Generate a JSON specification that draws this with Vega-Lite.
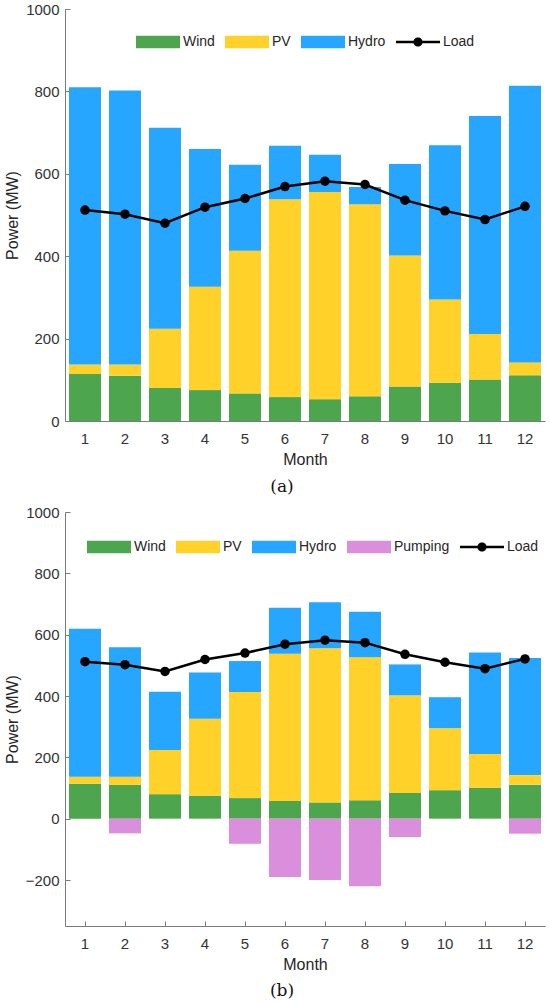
{
  "$schema": "https://vega.github.io/schema/vega-lite/v6.json",
  "padding": {"left": 4, "top": 2, "right": 5, "bottom": 5},
  "background": "white",
  "bounds": "flush",
  "spacing": 91,
  "config": {
    "view": {"stroke": null},
    "font": "Liberation Sans",
    "axis": {
      "labelFont": "Liberation Sans", "labelFontSize": 15, "labelColor": "#333333",
      "titleFont": "Liberation Sans", "titleFontSize": 16, "titleFontWeight": "normal", "titleColor": "#262626",
      "domainColor": "#7a7a7a", "tickColor": "#7a7a7a", "domainWidth": 1, "tickWidth": 1,
      "tickSize": -5, "grid": false
    }
  },
  "resolve": {"scale": {"color": "independent", "x": "independent", "y": "independent"}},
  "datasets": {
    "barsA": [
      {"month": 1, "series": "Wind", "value": 114}, {"month": 1, "series": "PV", "value": 23}, {"month": 1, "series": "Hydro", "value": 673},
      {"month": 2, "series": "Wind", "value": 110}, {"month": 2, "series": "PV", "value": 27}, {"month": 2, "series": "Hydro", "value": 665},
      {"month": 3, "series": "Wind", "value": 80}, {"month": 3, "series": "PV", "value": 144}, {"month": 3, "series": "Hydro", "value": 488},
      {"month": 4, "series": "Wind", "value": 75}, {"month": 4, "series": "PV", "value": 251}, {"month": 4, "series": "Hydro", "value": 334},
      {"month": 5, "series": "Wind", "value": 67}, {"month": 5, "series": "PV", "value": 346}, {"month": 5, "series": "Hydro", "value": 209},
      {"month": 6, "series": "Wind", "value": 58}, {"month": 6, "series": "PV", "value": 480}, {"month": 6, "series": "Hydro", "value": 130},
      {"month": 7, "series": "Wind", "value": 53}, {"month": 7, "series": "PV", "value": 503}, {"month": 7, "series": "Hydro", "value": 90},
      {"month": 8, "series": "Wind", "value": 60}, {"month": 8, "series": "PV", "value": 466}, {"month": 8, "series": "Hydro", "value": 42},
      {"month": 9, "series": "Wind", "value": 84}, {"month": 9, "series": "PV", "value": 318}, {"month": 9, "series": "Hydro", "value": 222},
      {"month": 10, "series": "Wind", "value": 93}, {"month": 10, "series": "PV", "value": 202}, {"month": 10, "series": "Hydro", "value": 374},
      {"month": 11, "series": "Wind", "value": 101}, {"month": 11, "series": "PV", "value": 110}, {"month": 11, "series": "Hydro", "value": 529},
      {"month": 12, "series": "Wind", "value": 111}, {"month": 12, "series": "PV", "value": 31}, {"month": 12, "series": "Hydro", "value": 672}
    ],
    "barsB": [
      {"month": 1, "series": "Wind", "value": 114}, {"month": 1, "series": "PV", "value": 23}, {"month": 1, "series": "Hydro", "value": 482},
      {"month": 2, "series": "Wind", "value": 110}, {"month": 2, "series": "PV", "value": 27}, {"month": 2, "series": "Hydro", "value": 422}, {"month": 2, "series": "Pumping", "value": -48},
      {"month": 3, "series": "Wind", "value": 80}, {"month": 3, "series": "PV", "value": 144}, {"month": 3, "series": "Hydro", "value": 190},
      {"month": 4, "series": "Wind", "value": 75}, {"month": 4, "series": "PV", "value": 251}, {"month": 4, "series": "Hydro", "value": 151},
      {"month": 5, "series": "Wind", "value": 67}, {"month": 5, "series": "PV", "value": 346}, {"month": 5, "series": "Hydro", "value": 101}, {"month": 5, "series": "Pumping", "value": -82},
      {"month": 6, "series": "Wind", "value": 58}, {"month": 6, "series": "PV", "value": 480}, {"month": 6, "series": "Hydro", "value": 150}, {"month": 6, "series": "Pumping", "value": -190},
      {"month": 7, "series": "Wind", "value": 53}, {"month": 7, "series": "PV", "value": 503}, {"month": 7, "series": "Hydro", "value": 150}, {"month": 7, "series": "Pumping", "value": -200},
      {"month": 8, "series": "Wind", "value": 60}, {"month": 8, "series": "PV", "value": 466}, {"month": 8, "series": "Hydro", "value": 149}, {"month": 8, "series": "Pumping", "value": -220},
      {"month": 9, "series": "Wind", "value": 84}, {"month": 9, "series": "PV", "value": 318}, {"month": 9, "series": "Hydro", "value": 101}, {"month": 9, "series": "Pumping", "value": -60},
      {"month": 10, "series": "Wind", "value": 93}, {"month": 10, "series": "PV", "value": 202}, {"month": 10, "series": "Hydro", "value": 101},
      {"month": 11, "series": "Wind", "value": 101}, {"month": 11, "series": "PV", "value": 110}, {"month": 11, "series": "Hydro", "value": 331},
      {"month": 12, "series": "Wind", "value": 111}, {"month": 12, "series": "PV", "value": 31}, {"month": 12, "series": "Hydro", "value": 382}, {"month": 12, "series": "Pumping", "value": -49}
    ],
    "load": [
      {"month": 1, "load": 512}, {"month": 2, "load": 502}, {"month": 3, "load": 480}, {"month": 4, "load": 519},
      {"month": 5, "load": 540}, {"month": 6, "load": 569}, {"month": 7, "load": 582}, {"month": 8, "load": 574},
      {"month": 9, "load": 536}, {"month": 10, "load": 510}, {"month": 11, "load": 489}, {"month": 12, "load": 521}
    ]
  },
  "vconcat": [
    {
      "width": 480,
      "height": 412,
      "title": {"text": "(a)", "orient": "bottom", "font": "DejaVu Serif", "fontSize": 17, "fontWeight": "normal", "color": "#111111", "offset": 12, "frame": "group", "anchor": "middle", "dx": -23},
      "layer": [
        {
          "data": {"name": "barsA"},
          "mark": {"type": "bar"},
          "encoding": {
            "x": {"field": "month", "type": "ordinal", "scale": {"paddingInner": 0.2, "paddingOuter": 0.1},
                  "axis": {"labelAngle": 0, "title": "Month", "labelPadding": 15, "titlePadding": 5}},
            "y": {"field": "value", "type": "quantitative", "stack": "zero", "scale": {"domain": [0, 1000], "nice": false},
                  "axis": {"values": [0, 200, 400, 600, 800, 1000], "labelExpr": "datum.value < 0 ? '\u2212' + abs(datum.value) : '' + datum.value", "title": "Power (MW)", "labelPadding": 11, "titlePadding": 5}},
            "color": {
              "field": "series", "type": "nominal", "sort": ["Wind", "PV", "Hydro", "Load"],
              "scale": {"domain": ["Wind", "PV", "Hydro", "Load"], "range": ["#4DA64D", "#FFD129", "#26A6FF", "#000000"]},
              "legend": {
                "orient": "none", "legendX": 71, "legendY": 11, "direction": "horizontal", "title": null,
                "symbolSize": 1936, "symbolType": "M-1,-0.28H1V0.28H-1Z", "symbolStrokeWidth": 0,
                "labelOffset": 3, "columnPadding": 10, "padding": 0,
                "labelFont": "Liberation Sans", "labelFontSize": 14, "labelColor": "#262626",
                "encode": {"symbols": {"update": {"shape": {"signal": "datum.value === 'Load' ? 'M-1,-0.055H1V0.055H-1Z M0.21,0A0.21,0.21,0,1,1,-0.21,0A0.21,0.21,0,1,1,0.21,0Z' : 'M-1,-0.28H1V0.28H-1Z'"}}}}
              }
            }
          }
        },
        {
          "data": {"name": "load"},
          "mark": {"type": "line", "color": "black", "strokeWidth": 2.5},
          "encoding": {
            "x": {"field": "month", "type": "ordinal"},
            "y": {"field": "load", "type": "quantitative"}
          }
        },
        {
          "data": {"name": "load"},
          "mark": {"type": "point", "shape": "circle", "filled": true, "color": "black", "size": 90, "opacity": 1},
          "encoding": {
            "x": {"field": "month", "type": "ordinal"},
            "y": {"field": "load", "type": "quantitative"}
          }
        }
      ]
    },
    {
      "width": 480,
      "height": 414,
      "title": {"text": "(b)", "orient": "bottom", "font": "DejaVu Serif", "fontSize": 17, "fontWeight": "normal", "color": "#111111", "offset": 11, "frame": "group", "anchor": "middle", "dx": -23},
      "layer": [
        {
          "data": {"name": "barsB"},
          "mark": {"type": "bar"},
          "encoding": {
            "x": {"field": "month", "type": "ordinal", "scale": {"paddingInner": 0.2, "paddingOuter": 0.1},
                  "axis": {"labelAngle": 0, "title": "Month", "labelPadding": 15, "titlePadding": 5}},
            "y": {"field": "value", "type": "quantitative", "stack": "zero", "scale": {"domain": [-350, 1000], "nice": false},
                  "axis": {"values": [-200, 0, 200, 400, 600, 800, 1000], "labelExpr": "datum.value < 0 ? '\u2212' + abs(datum.value) : '' + datum.value", "title": "Power (MW)", "labelPadding": 11, "titlePadding": 5}},
            "color": {
              "field": "series", "type": "nominal", "sort": ["Wind", "PV", "Hydro", "Pumping", "Load"],
              "scale": {"domain": ["Wind", "PV", "Hydro", "Pumping", "Load"], "range": ["#4DA64D", "#FFD129", "#26A6FF", "#D98FDB", "#000000"]},
              "legend": {
                "orient": "none", "legendX": 22, "legendY": 13, "direction": "horizontal", "title": null,
                "symbolSize": 1936, "symbolType": "M-1,-0.28H1V0.28H-1Z", "symbolStrokeWidth": 0,
                "labelOffset": 3, "columnPadding": 10, "padding": 0,
                "labelFont": "Liberation Sans", "labelFontSize": 14, "labelColor": "#262626",
                "encode": {"symbols": {"update": {"shape": {"signal": "datum.value === 'Load' ? 'M-1,-0.055H1V0.055H-1Z M0.21,0A0.21,0.21,0,1,1,-0.21,0A0.21,0.21,0,1,1,0.21,0Z' : 'M-1,-0.28H1V0.28H-1Z'"}}}}
              }
            }
          }
        },
        {
          "mark": {"type": "rule", "color": "#7a7a7a", "strokeWidth": 1},
          "encoding": {"y": {"datum": 0}}
        },
        {
          "data": {"name": "load"},
          "mark": {"type": "line", "color": "black", "strokeWidth": 2.5},
          "encoding": {
            "x": {"field": "month", "type": "ordinal"},
            "y": {"field": "load", "type": "quantitative"}
          }
        },
        {
          "data": {"name": "load"},
          "mark": {"type": "point", "shape": "circle", "filled": true, "color": "black", "size": 90, "opacity": 1},
          "encoding": {
            "x": {"field": "month", "type": "ordinal"},
            "y": {"field": "load", "type": "quantitative"}
          }
        }
      ]
    }
  ]
}
